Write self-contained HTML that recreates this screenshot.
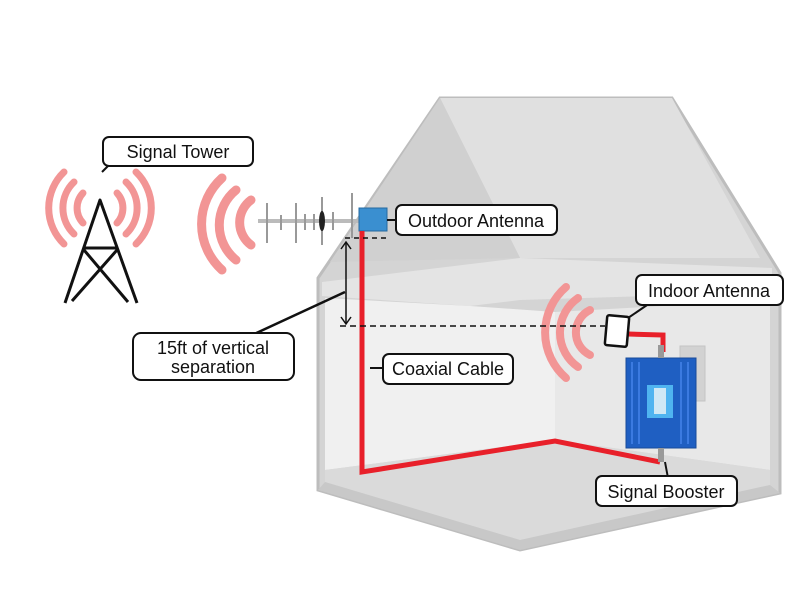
<!DOCTYPE html>
<html><head><meta charset="utf-8"><style>
html,body{margin:0;padding:0;background:#fff;}
svg{display:block;}
text{font-family:"Liberation Sans",sans-serif;font-size:18px;fill:#111;}
</style></head><body>
<svg width="800" height="590" viewBox="0 0 800 590" xmlns="http://www.w3.org/2000/svg">
<polygon points="440,98 672,98 780,273 780,493 520,550 318,490 318,278" fill="#d4d4d4" stroke="#bdbdbd" stroke-width="3"/>
<polygon points="440,98 672,98 760,258 520,258" fill="#e0e0e0"/>
<polygon points="440,98 520,258 330,262" fill="#d0d0d0"/>
<polygon points="322,282 520,258 772,268 772,292 520,300 470,306 322,296" fill="#e4e4e4"/>
<polygon points="325,298 470,306 555,312 555,440 325,470" fill="#f0f0f0"/>
<polygon points="555,312 770,300 770,470 555,440" fill="#e8e8e8"/>
<polygon points="325,470 555,440 770,470 770,485 520,540 325,482" fill="#dadada"/>
<polygon points="325,482 520,540 770,485 780,493 520,550 318,490" fill="#c8c8c8"/>
<rect x="680" y="346" width="25" height="55" fill="#d2d2d2" stroke="#c4c4c4"/>
<g stroke="#111" stroke-width="3" fill="none" stroke-linejoin="round">
<path d="M65,303 L100,200 L137,303"/>
<path d="M83,248 L118,248 M84,250 L128,302 M117,250 L72,301"/>
</g>
<g stroke="#f29595" stroke-width="7" fill="none" stroke-linecap="round">
<path d="M83,193 A22,22 0 0 0 83,223"/><path d="M74,182 A36,36 0 0 0 74,234"/><path d="M64,172 A50,50 0 0 0 64,244"/>
<path d="M117,193 A22,22 0 0 1 117,223"/><path d="M126,182 A36,36 0 0 1 126,234"/><path d="M136,172 A50,50 0 0 1 136,244"/>
<path d="M251,200 A28,28 0 0 0 251,245" stroke-width="9"/><path d="M236,190 A45,45 0 0 0 236,260" stroke-width="9"/><path d="M222,178 A62,62 0 0 0 222,270" stroke-width="9"/>
<path d="M590,310 A25,25 0 0 0 590,355" stroke-width="8"/><path d="M578,298 A42,42 0 0 0 578,367" stroke-width="8"/><path d="M566,287 A60,60 0 0 0 566,378" stroke-width="8"/>
</g>
<g stroke="#999" stroke-width="2">
<line x1="258" y1="221" x2="362" y2="221" stroke-width="4" stroke="#bbb"/>
<line x1="267" y1="203" x2="267" y2="243"/><line x1="281" y1="215" x2="281" y2="230"/>
<line x1="296" y1="203" x2="296" y2="243"/><line x1="305" y1="214" x2="305" y2="230"/>
<line x1="314" y1="214" x2="314" y2="230"/><line x1="322" y1="197" x2="322" y2="245"/>
<line x1="333" y1="212" x2="333" y2="230"/><line x1="352" y1="193" x2="352" y2="238"/>
</g>
<ellipse cx="322" cy="221" rx="3" ry="10" fill="#222"/>
<rect x="359" y="208" width="28" height="23" fill="#3a8fd0" stroke="#256aa0"/>
<polyline points="362,231 362,472 555,441 660,462" fill="none" stroke="#e8202a" stroke-width="5"/>
<polyline points="628,334 663,335 663,352" fill="none" stroke="#e8202a" stroke-width="5"/>
<g stroke="#111" stroke-width="1.5" fill="none">
<line x1="345" y1="238" x2="386" y2="238" stroke-dasharray="5,4"/>
<line x1="340" y1="326" x2="605" y2="326" stroke-dasharray="6,4"/>
<line x1="346" y1="242" x2="346" y2="324"/>
<path d="M341,249 L346,242 L351,249 M341,317 L346,324 L351,317"/>
</g>
<rect x="606" y="316" width="22" height="30" rx="2" fill="#fff" stroke="#111" stroke-width="2.5" transform="rotate(5 617 331)"/>
<rect x="626" y="358" width="70" height="90" fill="#1f5fc2" stroke="#194b9a"/>
<g stroke="#3b7ae0" stroke-width="2">
<line x1="632" y1="362" x2="632" y2="444"/><line x1="639" y1="362" x2="639" y2="444"/><line x1="681" y1="362" x2="681" y2="444"/><line x1="688" y1="362" x2="688" y2="444"/>
</g>
<rect x="647" y="385" width="26" height="33" fill="#4fb4f0"/>
<rect x="654" y="388" width="12" height="26" fill="#cfe8f5"/>
<rect x="658" y="448" width="6" height="14" fill="#999"/>
<rect x="658" y="345" width="6" height="13" fill="#999"/>
<g fill="#111" stroke="#111" stroke-width="2">
<line x1="110" y1="164" x2="102" y2="172"/>
<line x1="387" y1="220" x2="397" y2="220"/>
<line x1="650" y1="303" x2="628" y2="318"/>
<line x1="250" y1="336" x2="345" y2="292" stroke-width="2.5"/>
<line x1="370" y1="368" x2="384" y2="368"/>
<line x1="665" y1="462" x2="668" y2="478"/>
</g>
<g fill="#fff" stroke="#111" stroke-width="2">
<rect x="103" y="137" width="150" height="29" rx="6"/>
<rect x="396" y="205" width="161" height="30" rx="6"/>
<rect x="636" y="275" width="147" height="30" rx="6"/>
<rect x="133" y="333" width="161" height="47" rx="8"/>
<rect x="383" y="354" width="130" height="30" rx="6"/>
<rect x="596" y="476" width="141" height="30" rx="6"/>
</g>
<text x="178" y="158" text-anchor="middle">Signal Tower</text>
<text x="476" y="227" text-anchor="middle">Outdoor Antenna</text>
<text x="709" y="297" text-anchor="middle">Indoor Antenna</text>
<text x="213" y="354" text-anchor="middle">15ft of vertical</text>
<text x="213" y="373" text-anchor="middle">separation</text>
<text x="448" y="375" text-anchor="middle">Coaxial Cable</text>
<text x="666" y="498" text-anchor="middle">Signal Booster</text>
</svg>
</body></html>
